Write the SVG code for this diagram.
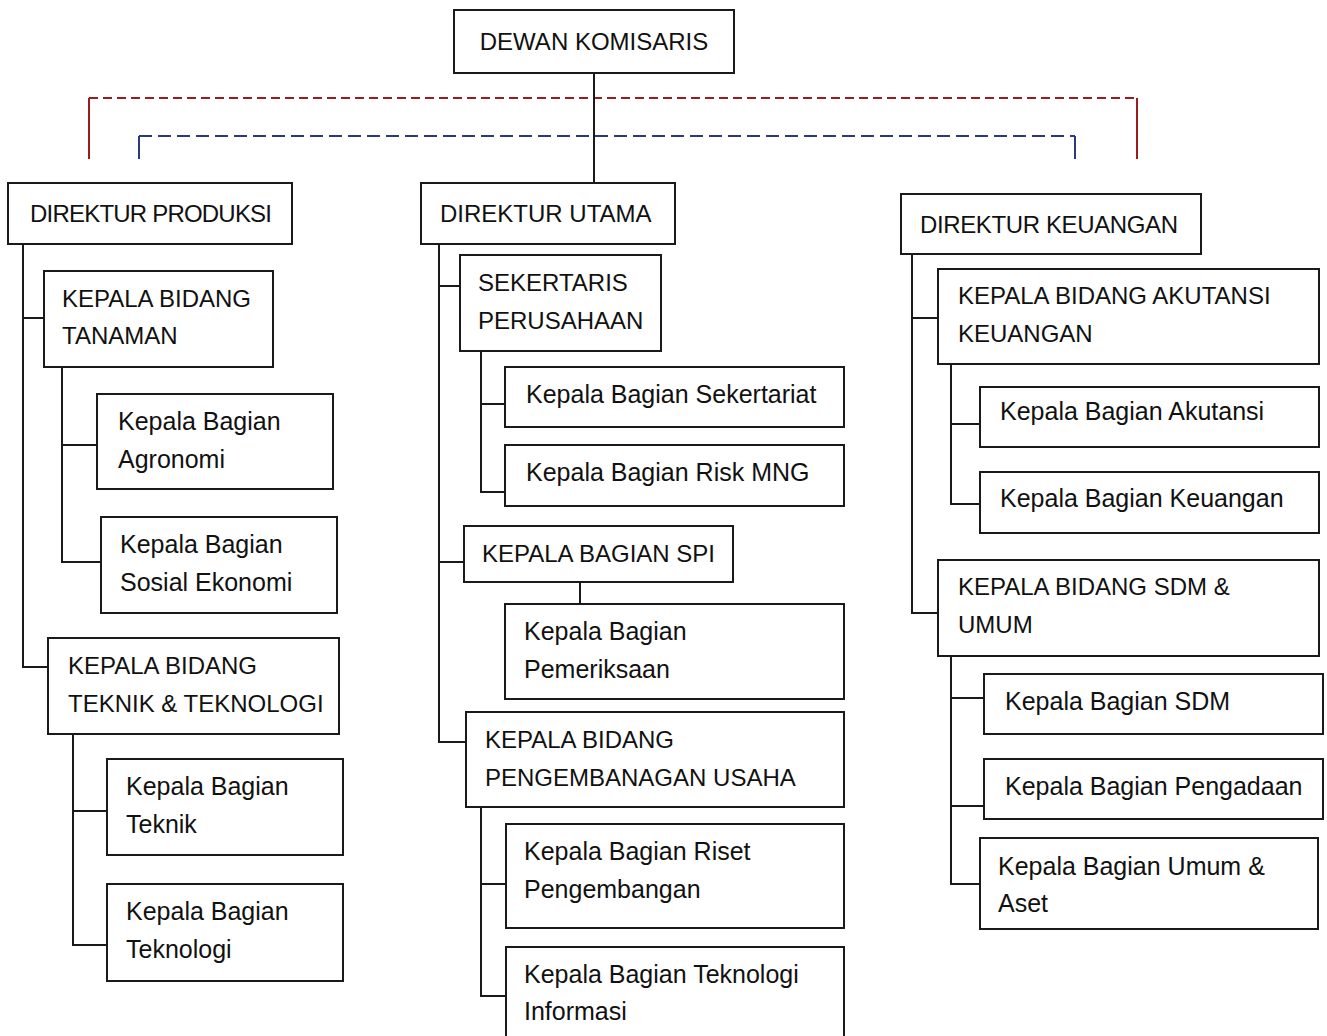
<svg xmlns="http://www.w3.org/2000/svg" width="1327" height="1036" viewBox="0 0 1327 1036">
<style>
.b{fill:#fff;stroke:#1a1a1a;stroke-width:2}
.u{font-family:"Liberation Sans",Arial,sans-serif;font-size:24px;fill:#111}
.m{font-family:"Liberation Sans",Arial,sans-serif;font-size:25px;fill:#111}
.c{fill:none;stroke:#1a1a1a;stroke-width:2}
.rd{fill:none;stroke:#9b1c1c;stroke-width:2}
.bl{fill:none;stroke:#2b3a7a;stroke-width:2}
</style>
<rect width="1327" height="1036" fill="#fff"/>
<g id="connectors">
<path class="rd" d="M89,159 V98"/>
<path class="rd" d="M1137,159 V98"/>
<path class="rd" d="M89,98 H1137" stroke-dasharray="9,5"/>
<path class="bl" d="M139,159 V136"/>
<path class="bl" d="M1075,159 V136"/>
<path class="bl" d="M139,136 H1075" stroke-dasharray="13,6"/>
<path class="c" d="M594,73 V183"/>
<path class="c" d="M23,244 V667 H48 M23,318 H44"/>
<path class="c" d="M62,367 V562 H101 M62,445 H97"/>
<path class="c" d="M73,734 V945 H107 M73,811 H107"/>
<path class="c" d="M439,244 V742 H466 M439,286 H460 M439,562 H464"/>
<path class="c" d="M481,351 V492 H505 M481,404 H505"/>
<path class="c" d="M580,582 V604"/>
<path class="c" d="M481,807 V996 H506 M481,884 H506"/>
<path class="c" d="M912,254 V613 H938 M912,318 H938"/>
<path class="c" d="M951,364 V504 H980 M951,424 H980"/>
<path class="c" d="M951,656 V884 H980 M951,698 H984 M951,806 H984"/>
</g>
<g id="dewan-komisaris"><rect class="b" x="454" y="10" width="280" height="63"/><text class="u" x="594" y="50" text-anchor="middle">DEWAN KOMISARIS</text></g>
<g id="direktur-produksi"><rect class="b" x="8" y="183" width="284" height="61"/><text class="u" x="30" y="222" textLength="242">DIREKTUR PRODUKSI</text></g>
<g id="direktur-utama"><rect class="b" x="421" y="183" width="254" height="61"/><text class="u" x="440" y="222">DIREKTUR UTAMA</text></g>
<g id="direktur-keuangan"><rect class="b" x="901" y="194" width="300" height="60"/><text class="u" x="920" y="233" textLength="258">DIREKTUR KEUANGAN</text></g>
<g id="kb-tanaman"><rect class="b" x="44" y="271" width="229" height="96"/><text class="u" x="62" y="307">KEPALA BIDANG</text><text class="u" x="62" y="344">TANAMAN</text></g>
<g id="kbg-agronomi"><rect class="b" x="97" y="394" width="236" height="95"/><text class="m" x="118" y="430">Kepala Bagian</text><text class="m" x="118" y="468">Agronomi</text></g>
<g id="kbg-sosial-ekonomi"><rect class="b" x="101" y="517" width="236" height="96"/><text class="m" x="120" y="553">Kepala Bagian</text><text class="m" x="120" y="591">Sosial Ekonomi</text></g>
<g id="kb-teknik-teknologi"><rect class="b" x="48" y="638" width="291" height="96"/><text class="u" x="68" y="674">KEPALA BIDANG</text><text class="u" x="68" y="712">TEKNIK &amp; TEKNOLOGI</text></g>
<g id="kbg-teknik"><rect class="b" x="107" y="759" width="236" height="96"/><text class="m" x="126" y="795">Kepala Bagian</text><text class="m" x="126" y="833">Teknik</text></g>
<g id="kbg-teknologi"><rect class="b" x="107" y="884" width="236" height="97"/><text class="m" x="126" y="920">Kepala Bagian</text><text class="m" x="126" y="958">Teknologi</text></g>
<g id="sekertaris"><rect class="b" x="460" y="255" width="201" height="96"/><text class="u" x="478" y="291">SEKERTARIS</text><text class="u" x="478" y="329">PERUSAHAAN</text></g>
<g id="kbg-sekertariat"><rect class="b" x="505" y="367" width="339" height="60"/><text class="m" x="526" y="403">Kepala Bagian Sekertariat</text></g>
<g id="kbg-risk"><rect class="b" x="505" y="445" width="339" height="61"/><text class="m" x="526" y="481">Kepala Bagian Risk MNG</text></g>
<g id="kbg-spi"><rect class="b" x="464" y="526" width="269" height="56"/><text class="u" x="482" y="562">KEPALA BAGIAN SPI</text></g>
<g id="kbg-pemeriksaan"><rect class="b" x="505" y="604" width="339" height="95"/><text class="m" x="524" y="640">Kepala Bagian</text><text class="m" x="524" y="678">Pemeriksaan</text></g>
<g id="kb-pengembangan"><rect class="b" x="466" y="712" width="378" height="95"/><text class="u" x="485" y="748">KEPALA BIDANG</text><text class="u" x="485" y="786">PENGEMBANAGAN USAHA</text></g>
<g id="kbg-riset"><rect class="b" x="506" y="824" width="338" height="104"/><text class="m" x="524" y="860">Kepala Bagian Riset</text><text class="m" x="524" y="898">Pengembangan</text></g>
<g id="kbg-ti"><rect class="b" x="506" y="947" width="338" height="100"/><text class="m" x="524" y="983">Kepala Bagian Teknologi</text><text class="m" x="524" y="1020">Informasi</text></g>
<g id="kb-akutansi-keuangan"><rect class="b" x="938" y="269" width="381" height="95"/><text class="u" x="958" y="304">KEPALA BIDANG AKUTANSI</text><text class="u" x="958" y="342">KEUANGAN</text></g>
<g id="kbg-akutansi"><rect class="b" x="980" y="387" width="339" height="60"/><text class="m" x="1000" y="420">Kepala Bagian Akutansi</text></g>
<g id="kbg-keuangan"><rect class="b" x="980" y="472" width="339" height="61"/><text class="m" x="1000" y="507">Kepala Bagian Keuangan</text></g>
<g id="kb-sdm-umum"><rect class="b" x="938" y="560" width="381" height="96"/><text class="u" x="958" y="595">KEPALA BIDANG SDM &amp;</text><text class="u" x="958" y="633">UMUM</text></g>
<g id="kbg-sdm"><rect class="b" x="984" y="674" width="339" height="60"/><text class="m" x="1005" y="710">Kepala Bagian SDM</text></g>
<g id="kbg-pengadaan"><rect class="b" x="984" y="759" width="339" height="60"/><text class="m" x="1005" y="795">Kepala Bagian Pengadaan</text></g>
<g id="kbg-umum-aset"><rect class="b" x="980" y="838" width="338" height="91"/><text class="m" x="998" y="875">Kepala Bagian Umum &amp;</text><text class="m" x="998" y="912">Aset</text></g>
</svg>
